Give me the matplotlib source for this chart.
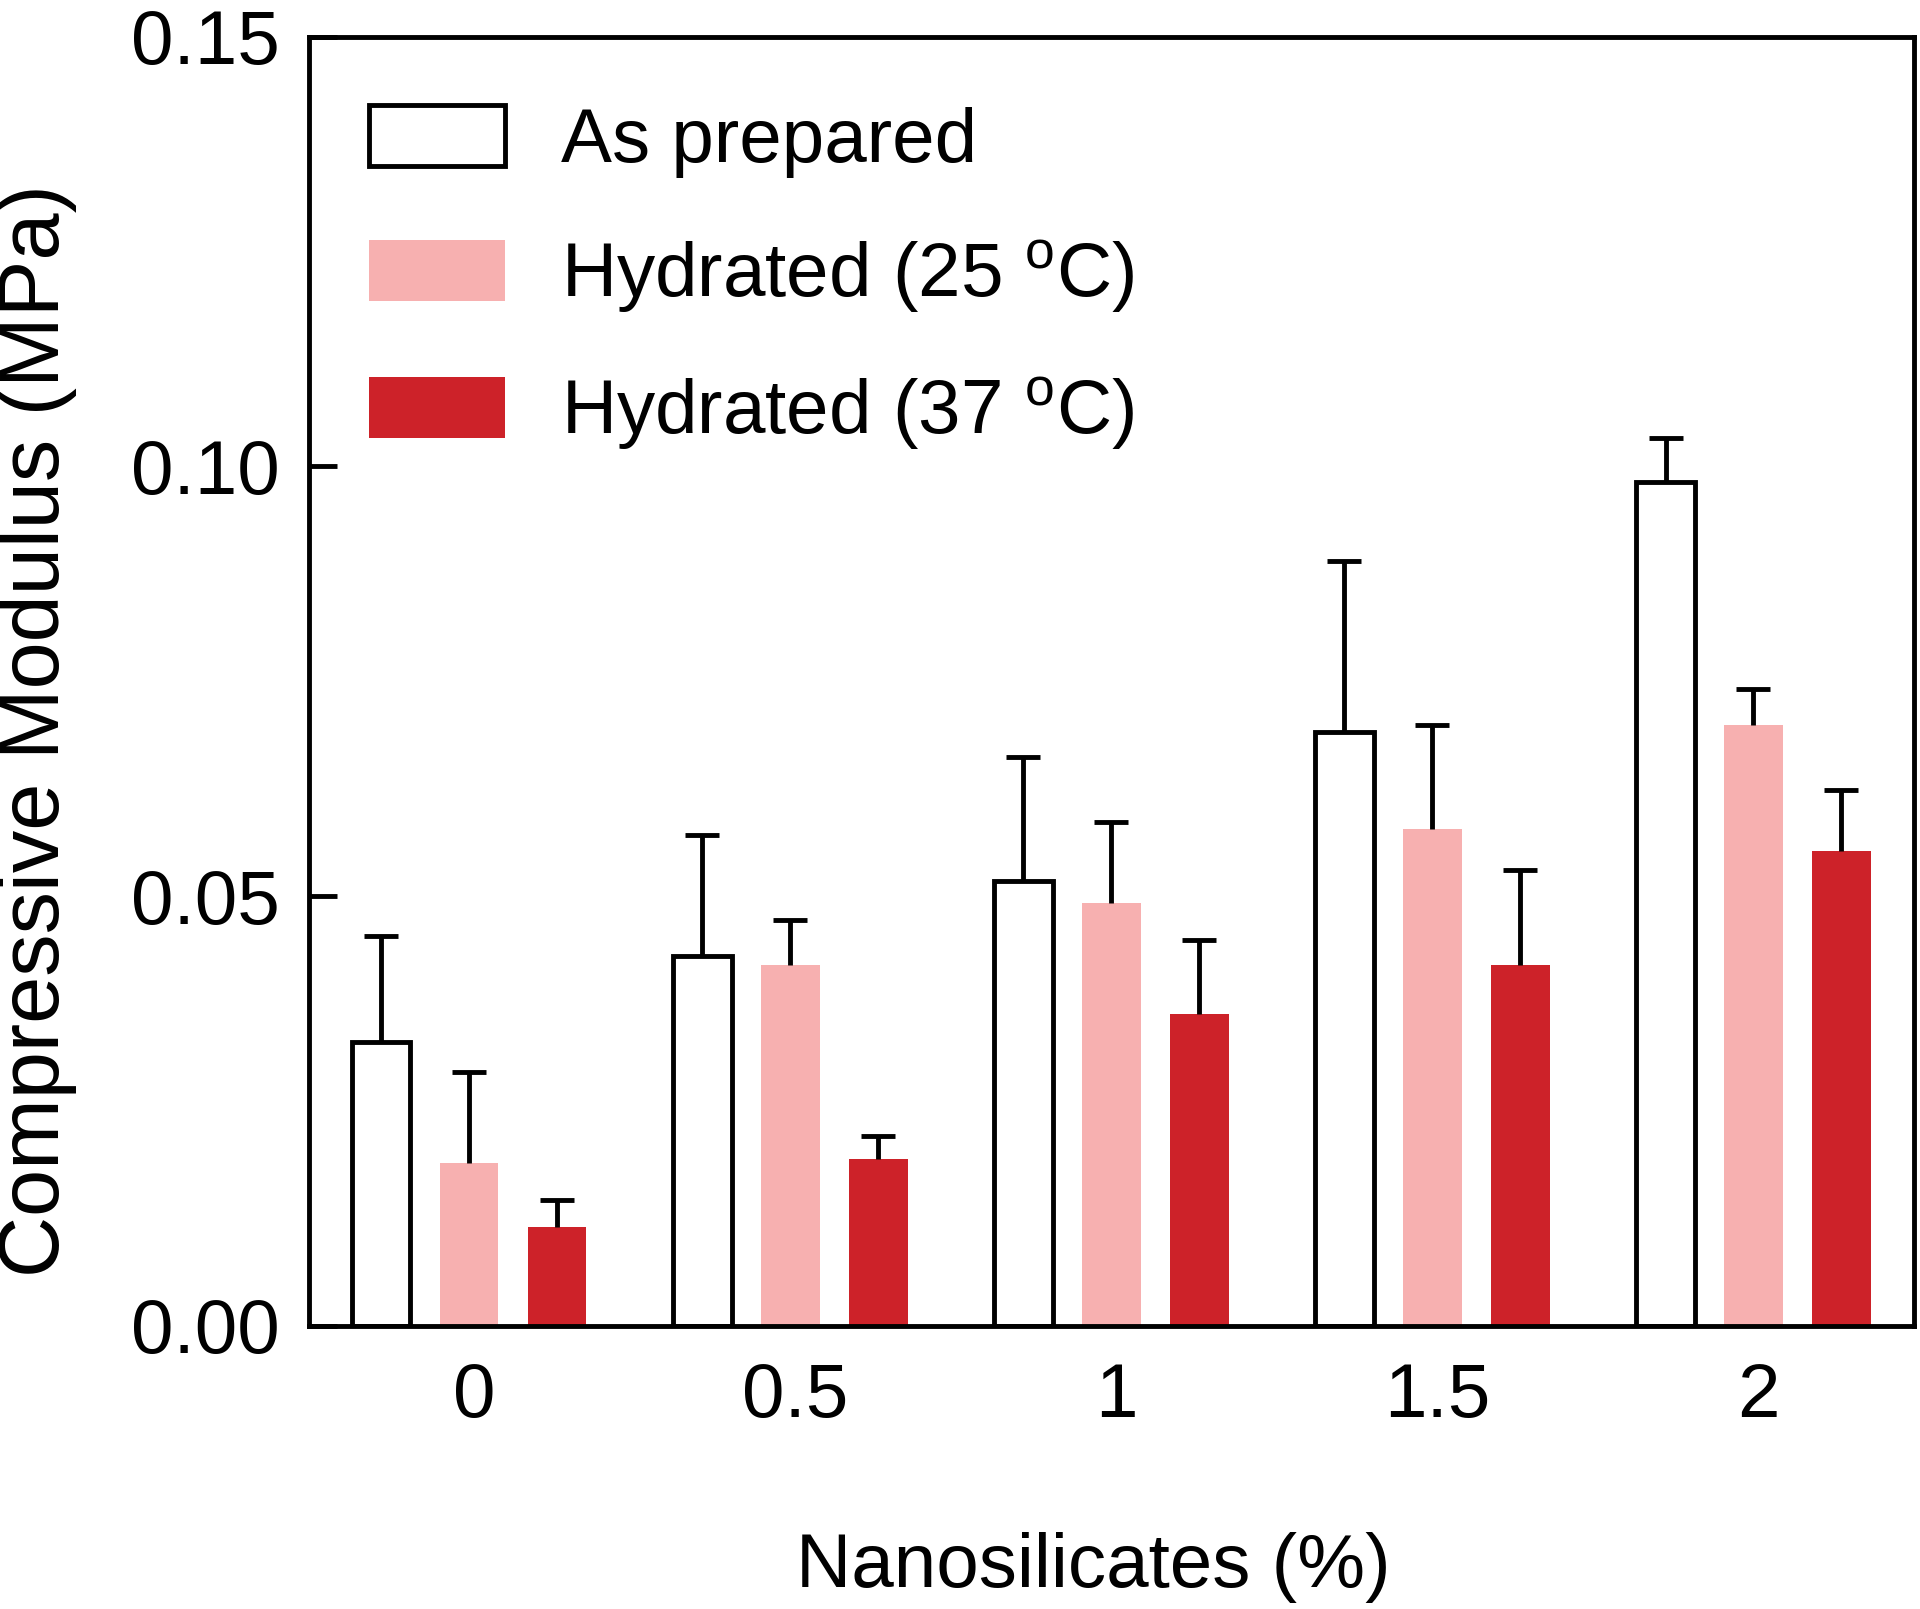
import matplotlib
matplotlib.use("Agg")
import matplotlib.pyplot as plt
from matplotlib.transforms import ScaledTranslation
import numpy as np

plt.rcParams['font.family'] = ['Liberation Sans', 'DejaVu Sans']
plt.rcParams['mathtext.default'] = 'regular'

categories = ['0', '0.5', '1', '1.5', '2']
series_names = ['As prepared', 'Hydrated (25 $^{o}$C)', 'Hydrated (37 $^{o}$C)']
as_prepared = [0.0330, 0.0430, 0.0518, 0.0691, 0.0982]
as_prepared_err = [0.0124, 0.0141, 0.0144, 0.0199, 0.0051]
hyd25 = [0.0190, 0.0420, 0.0492, 0.0578, 0.0699]
hyd25_err = [0.0105, 0.0052, 0.0094, 0.0121, 0.0042]
hyd37 = [0.0115, 0.0194, 0.0363, 0.0420, 0.0553]
hyd37_err = [0.0032, 0.0027, 0.0086, 0.0110, 0.0070]
yticks = [0.00, 0.05, 0.10, 0.15]

fig = plt.figure(figsize=(19.2, 16.09), dpi=100)
ax = fig.add_axes([0.1607, 0.1759, 0.8362, 0.8013])

x = np.arange(len(categories))
width = 0.183
offset = 0.274
lw = 3.5
styles = [dict(facecolor='white', edgecolor='black', linewidth=lw),
          dict(facecolor='#F7B0B0', edgecolor='none', linewidth=0),
          dict(facecolor='#CD2229', edgecolor='none', linewidth=0)]
vals = [as_prepared, hyd25, hyd37]
errs = [as_prepared_err, hyd25_err, hyd37_err]
for i, (v, e, st, name) in enumerate(zip(vals, errs, styles, series_names)):
    xs = x + (i - 1) * offset
    ax.bar(xs, v, width, label=name, zorder=2, **st)
    eb = ax.errorbar(xs, v, yerr=[np.zeros(len(v)), e], fmt='none', ecolor='black',
                     elinewidth=lw, capsize=12, capthick=lw, zorder=3)
    caps = eb[1]
    if len(caps) >= 2:
        caps[0].set_visible(False)

ax.set_xlim(-0.5, 4.5)
ax.set_ylim(0, 0.15)
ax.set_xticks(x)
ax.set_xticklabels(categories)
ax.set_yticks(yticks)
ax.set_yticklabels(['%.2f' % t for t in yticks])
ax.tick_params(axis='y', direction='in', length=20, width=lw, labelsize=55, pad=21)
ax.tick_params(axis='x', length=0, labelsize=55, pad=26)
for lab in ax.get_xticklabels():
    lab.set_transform(lab.get_transform() + ScaledTranslation(0.05, 0, fig.dpi_scale_trans))
for s in ax.spines.values():
    s.set_linewidth(lw)

ax.set_xlabel('Nanosilicates (%)', fontsize=55)
ax.xaxis.set_label_coords(0.4886, -0.160)
ax.set_ylabel('Compressive Modulus (MPa)', fontsize=61)
ax.yaxis.set_label_coords(-0.144, 0.4615)

leg = ax.legend(loc='upper left', bbox_to_anchor=(0.0374, 0.9470), frameon=False,
                fontsize=55, handlelength=1.78, handleheight=0.85, handletextpad=0.74,
                labelspacing=0.79, borderpad=0, borderaxespad=0)

fig.savefig('out.png', dpi=100)
